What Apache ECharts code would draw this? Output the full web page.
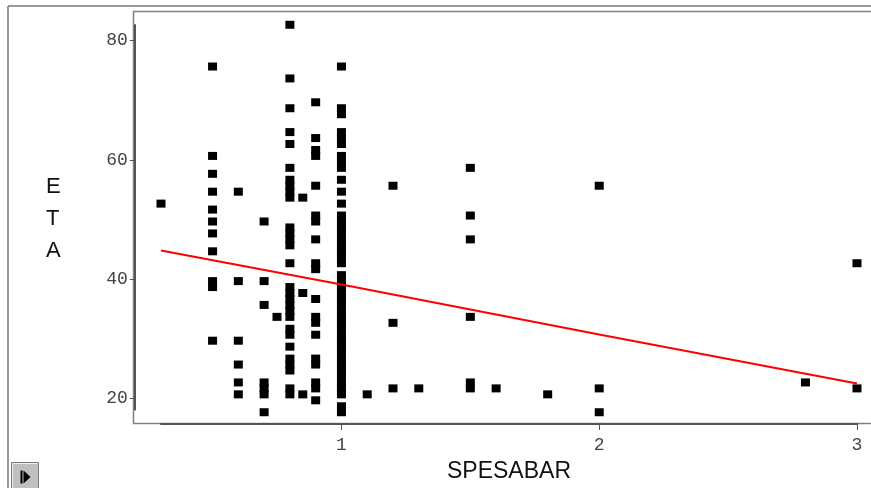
<!DOCTYPE html>
<html><head><meta charset="utf-8">
<script src="https://cdn.jsdelivr.net/npm/echarts@6/dist/echarts.min.js"></script>
<style>html,body{margin:0;padding:0;background:#fff}#c{width:871px;height:488px}</style>
</head><body><div id="c"></div>
<script>
// SPESABAR (x) and ETA (y)
const spesabar = [
  0.3,
  0.5,0.5,0.5,0.5,0.5,0.5,0.5,0.5,0.5,0.5,0.5,
  0.6,0.6,0.6,0.6,0.6,0.6,
  0.7,0.7,0.7,0.7,0.7,0.7,0.7,
  0.75,
  0.8,0.8,0.8,0.8,0.8,0.8,0.8,0.8,0.8,0.8,0.8,0.8,0.8,0.8,0.8,0.8,0.8,0.8,0.8,0.8,0.8,0.8,0.8,0.8,0.8,0.8,0.8,0.8,0.8,
  0.85,0.85,0.85,
  0.9,0.9,0.9,0.9,0.9,0.9,0.9,0.9,0.9,0.9,0.9,0.9,0.9,0.9,0.9,0.9,0.9,0.9,0.9,
  1,1,1,1,1,1,1,1,1,1,1,1,1,1,1,1,1,1,1,1,1,1,1,1,1,1,1,1,1,1,1,1,1,1,1,1,1,1,1,1,1,1,1,1,
  1.1,
  1.2,1.2,1.2,
  1.3,
  1.5,1.5,1.5,1.5,1.5,1.5,
  1.6,
  1.8,
  2,2,2,
  2.8,
  3,3
];
const eta = [
  53,
  76,61,58,55,52,50,48,45,40,39,30,
  55,40,30,26,23,21,
  50,40,36,23,22,21,18,
  34,
  83,74,69,65,63,59,57,56,55,54,49,48,47,46,43,39,38,37,36,35,34,32,31,29,27,26,25,22,21,
  54,38,21,
  70,64,62,61,56,51,50,47,43,42,37,34,33,31,27,26,23,22,20,
  76,69,68,65,64,63,61,60,59,57,55,53,51,50,49,48,47,46,45,44,43,41,40,39,38,37,36,35,34,33,32,31,30,29,28,27,26,25,24,23,22,21,19,18,
  21,
  56,33,22,
  22,
  59,51,47,34,23,22,
  22,
  21,
  56,22,18,
  23,
  43,22
];
// red fitted line
const fitX = [0.3, 1, 2, 3];
const fitY = [44.8, 39.1, 30.7, 22.5];
const xTicks = [1, 2, 3];
const yTicks = [20, 40, 60, 80];
const xName = 'SPESABAR';
const yName = 'ETA';

const chart = echarts.init(document.getElementById('c'), null, {renderer: 'canvas'});
const points = spesabar.map((x, i) => [x, eta[i]]);
const fitLine = fitX.map((x, i) => [x, fitY[i]]);
const tickFont = {fontFamily: 'Liberation Mono', fontSize: 18, color: '#444'};

chart.setOption({
  animation: false,
  backgroundColor: '#fff',
  grid: {left: 161, right: 14, top: 25, bottom: 77.3, containLabel: false},
  xAxis: {
    type: 'value', min: 0.3, max: 3.0, offset: 14.3,
    axisLine: {show: true, onZero: false, lineStyle: {color: '#555', width: 2}},
    axisTick: {show: true, length: 6, customValues: xTicks, lineStyle: {color: '#555', width: 1}},
    axisLabel: Object.assign({customValues: xTicks, margin: 12}, tickFont),
    splitLine: {show: false},
    name: xName, nameLocation: 'middle', nameGap: 36,
    nameTextStyle: {fontFamily: 'Liberation Sans', fontSize: 23, color: '#111'}
  },
  yAxis: {
    type: 'value', min: 18.09, max: 82.63, offset: 26.25,
    axisLine: {show: true, onZero: false, lineStyle: {color: '#555', width: 2}},
    axisTick: {show: true, length: 5, customValues: yTicks, lineStyle: {color: '#555', width: 1}},
    axisLabel: Object.assign({customValues: yTicks, margin: 7}, tickFont),
    splitLine: {show: false}
  },
  graphic: [
    {type: 'line', shape: {x1: 8, y1: 6, x2: 871, y2: 6}, style: {stroke: '#777', lineWidth: 1.5}, z: 0},
    {type: 'line', shape: {x1: 8, y1: 6, x2: 8, y2: 488}, style: {stroke: '#777', lineWidth: 1.5}, z: 0},
    {type: 'rect', shape: {x: 133.5, y: 11.5, width: 760, height: 412}, style: {fill: null, stroke: '#808080', lineWidth: 1.5}, z: 0},
    {type: 'text', left: 46, top: 171, z: 5,
     style: {text: yName.split('').join('\n'), fontFamily: 'Liberation Sans', fontSize: 22, lineHeight: 32, fill: '#111', align: 'center', width: 20}},
    {type: 'group', left: 10, top: 461, z: 5, children: [
      {type: 'rect', shape: {x: 0, y: 0, width: 27, height: 27}, style: {fill: '#c0c0c0', stroke: '#7a7a7a', lineWidth: 1}},
      {type: 'line', shape: {x1: 1, y1: 1, x2: 26, y2: 1}, style: {stroke: '#eee', lineWidth: 1}},
      {type: 'line', shape: {x1: 1, y1: 1, x2: 1, y2: 27}, style: {stroke: '#eee', lineWidth: 1}},
      {type: 'rect', shape: {x: 9, y: 8, width: 2, height: 13}, style: {fill: '#000'}},
      {type: 'polygon', shape: {points: [[12, 8], [12, 21], [19, 14.5]]}, style: {fill: '#000'}}
    ]}
  ],
  series: [
    {type: 'scatter', data: points, symbol: 'rect', symbolSize: [9, 8], symbolOffset: [0, 2],
     itemStyle: {color: '#000', opacity: 1}, clip: false, z: 2, silent: true},
    {type: 'line', data: fitLine, showSymbol: false, symbol: 'none',
     lineStyle: {color: '#ff0000', width: 2}, z: 3, clip: false, silent: true}
  ]
});
</script>
</body></html>
